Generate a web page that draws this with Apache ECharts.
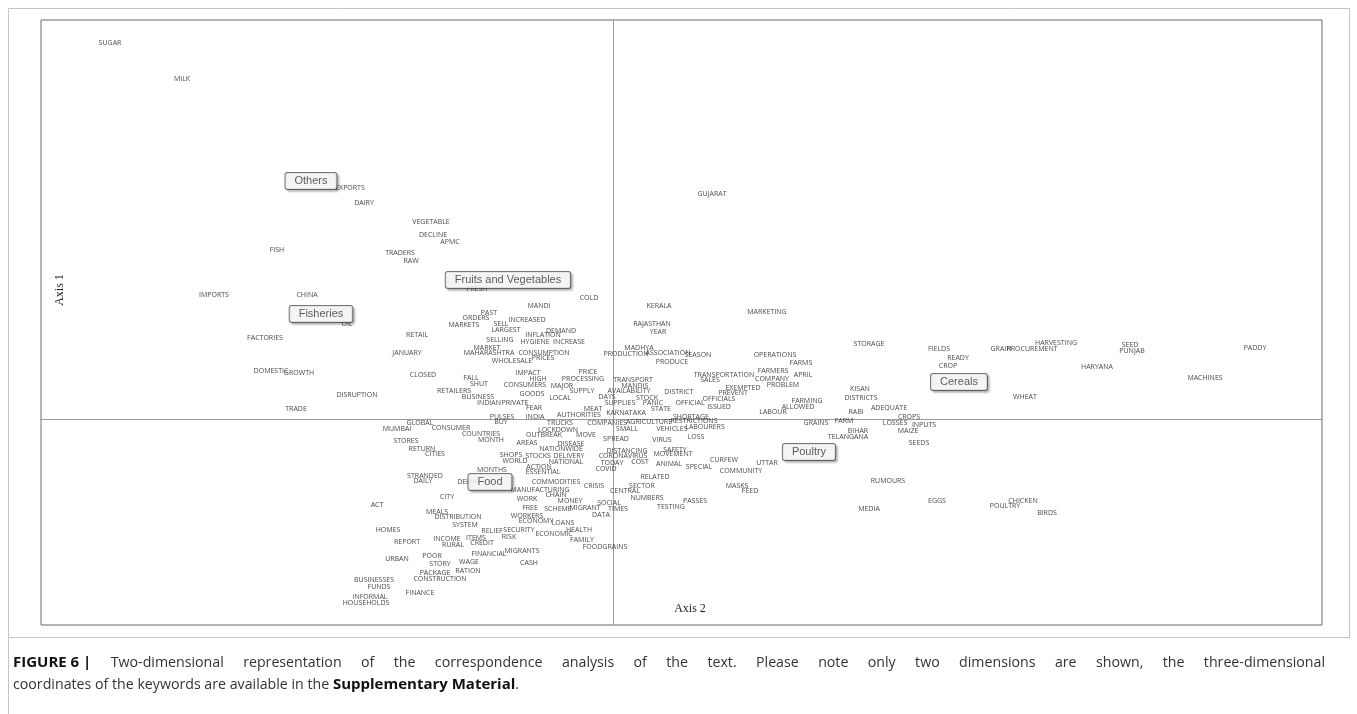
<!DOCTYPE html>
<html><head><meta charset="utf-8">
<script src="https://cdn.jsdelivr.net/npm/echarts@6/dist/echarts.min.js"></script>
<style>html,body{margin:0;padding:0;background:#fff}#c{width:1357px;height:714px}</style>
</head><body><div id="c"></div>
<script>
// Keyword labels with their estimated coordinates (Axis 2 = horizontal, Axis 1 = vertical)
var keywords = ["SUGAR","MILK","EXPORTS","DAIRY","VEGETABLE","DECLINE","APMC","TRADERS","RAW","FISH",
"IMPORTS","CHINA","FRESH","COLD","MANDI","KERALA","PAST","ORDERS","GUJARAT","MARKETING",
"RAJASTHAN","YEAR","MADHYA","STORAGE","FIELDS","READY","CROP","GRAIN","PROCUREMENT","HARVESTING",
"SEED","PUNJAB","PADDY","HARYANA","MACHINES","WHEAT","ADEQUATE","CROPS","LOSSES","INPUTS",
"MAIZE","SEEDS","RABI","GRAINS","FARM","BIHAR","TELANGANA","RUMOURS","EGGS","MEDIA",
"POULTRY","CHICKEN","BIRDS","KISAN","DISTRICTS","PRODUCTION","ASSOCIATION","SEASON","PRODUCE","OPERATIONS",
"FARMS","FARMERS","APRIL","TRANSPORTATION","SALES","COMPANY","PROBLEM","EXEMPTED","PREVENT","OFFICIALS",
"ISSUED","OFFICIAL","DISTRICT","TRANSPORT","MANDIS","AVAILABILITY","DAYS","STOCK","SUPPLIES","PANIC",
"STATE","KARNATAKA","SHORTAGE","RESTRICTIONS","LABOUR","FARMING","ALLOWED","COMPANIES","AGRICULTURE","SMALL",
"VEHICLES","LABOURERS","SPREAD","VIRUS","LOSS","DISTANCING","SAFETY","CORONAVIRUS","MOVEMENT","TODAY",
"COST","COVID","ANIMAL","SPECIAL","CURFEW","UTTAR","COMMUNITY","RELATED","CRISIS","SECTOR",
"CENTRAL","NUMBERS","MASKS","FEED","PASSES","TESTING","SOCIAL","TIMES","MIGRANT","DATA",
"MEAT","MARKETS","SELL","INCREASED","LARGEST","DEMAND","INFLATION","HYGIENE","INCREASE","SELLING",
"MARKET","MAHARASHTRA","CONSUMPTION","WHOLESALE","PRICES","IMPACT","HIGH","PRICE","PROCESSING","FALL",
"SHUT","CONSUMERS","MAJOR","RETAILERS","SUPPLY","GOODS","BUSINESS","LOCAL","INDIAN","PRIVATE",
"FEAR","PULSES","BUY","INDIA","AUTHORITIES","TRUCKS","CONSUMER","GLOBAL","MUMBAI","COUNTRIES",
"MONTH","LOCKDOWN","OUTBREAK","MOVE","AREAS","DISEASE","NATIONWIDE","STORES","RETURN","CITIES",
"SHOPS","STOCKS","DELIVERY","WORLD","NATIONAL","ACTION","ESSENTIAL","MONTHS","STRANDED","DAILY",
"DELHI","COMMODITIES","MANUFACTURING","CHAIN","CITY","WORK","MONEY","ACT","FREE","SCHEME",
"MEALS","DISTRIBUTION","WORKERS","ECONOMY","LOANS","SYSTEM","HOMES","REPORT","INCOME","RURAL",
"ITEMS","CREDIT","RELIEF","SECURITY","RISK","ECONOMIC","HEALTH","FAMILY","FOODGRAINS","URBAN",
"POOR","STORY","WAGE","FINANCIAL","MIGRANTS","CASH","PACKAGE","RATION","CONSTRUCTION","BUSINESSES",
"FUNDS","FINANCE","INFORMAL","HOUSEHOLDS","OIL","FACTORIES","RETAIL","JANUARY","DOMESTIC","GROWTH",
"CLOSED","DISRUPTION","TRADE"];
var axis2Values = [-5.03,-4.31,-2.63,-2.49,-1.82,-1.80,-1.63,-2.13,-2.02,-3.36,
-3.99,-3.06,-1.36,-0.24,-0.74,0.46,-1.24,-1.37,0.99,1.54,
0.39,0.45,0.26,2.56,3.26,3.45,3.35,3.88,4.19,4.43,
5.17,5.19,6.42,4.84,5.92,4.12,2.76,2.96,2.82,3.11,
2.95,3.06,2.43,2.03,2.31,2.45,2.35,2.75,3.24,2.56,
3.92,4.10,4.34,2.47,2.48,0.13,0.55,0.85,0.59,1.62,
1.88,1.60,1.90,1.11,0.97,1.59,1.70,1.30,1.20,1.06,
1.06,0.77,0.66,0.20,0.22,0.16,-0.06,0.34,0.07,0.40,
0.48,0.13,0.78,0.81,1.60,1.94,1.85,-0.06,0.36,0.14,
0.59,0.92,0.03,0.49,0.83,0.14,0.62,0.10,0.60,-0.01,
0.27,-0.07,0.56,0.86,1.11,1.54,1.28,0.42,-0.19,0.29,
0.12,0.34,1.24,1.37,0.82,0.58,-0.04,0.05,-0.28,-0.12,
-0.20,-1.49,-1.12,-0.86,-1.07,-0.52,-0.70,-0.78,-0.44,-1.13,
-1.26,-1.24,-0.69,-1.01,-0.70,-0.85,-0.75,-0.25,-0.30,-1.42,
-1.34,-0.88,-0.51,-1.59,-0.31,-0.81,-1.35,-0.53,-1.24,-0.98,
-0.79,-1.11,-1.12,-0.78,-0.34,-0.53,-1.62,-1.93,-2.16,-1.32,
-1.22,-0.55,-0.69,-0.27,-0.86,-0.42,-0.52,-2.07,-1.91,-1.78,
-1.02,-0.75,-0.44,-0.98,-0.47,-0.74,-0.70,-1.21,-1.88,-1.90,
-1.46,-0.57,-0.73,-0.57,-1.66,-0.86,-0.43,-2.36,-0.83,-0.55,
-1.76,-1.55,-0.86,-0.77,-0.50,-1.48,-2.25,-2.06,-1.66,-1.60,
-1.37,-1.31,-1.21,-0.94,-1.04,-0.59,-0.34,-0.31,-0.08,-2.16,
-1.81,-1.73,-1.44,-1.24,-0.91,-0.84,-1.78,-1.45,-1.73,-2.39,
-2.34,-1.93,-2.43,-2.47,-2.66,-3.48,-1.96,-2.06,-3.42,-3.14,
-1.90,-2.56,-3.17];
var axis1Values = [3.76,3.40,2.31,2.16,1.97,1.84,1.77,1.66,1.58,1.69,
1.24,1.24,1.30,1.21,1.13,1.13,1.06,1.01,2.25,1.07,
0.95,0.87,0.71,0.75,0.70,0.61,0.53,0.70,0.70,0.76,
0.74,0.68,0.71,0.52,0.41,0.22,0.11,0.02,-0.04,-0.06,
-0.12,-0.24,0.07,-0.04,-0.02,-0.12,-0.18,-0.62,-0.82,-0.90,
-0.87,-0.82,-0.94,0.30,0.21,0.65,0.66,0.64,0.57,0.64,
0.56,0.48,0.44,0.44,0.39,0.40,0.34,0.31,0.26,0.20,
0.12,0.16,0.27,0.39,0.33,0.28,0.22,0.21,0.16,0.16,
0.10,0.06,0.02,-0.02,0.07,0.18,0.12,-0.04,-0.03,-0.10,
-0.10,-0.08,-0.20,-0.21,-0.18,-0.32,-0.31,-0.37,-0.35,-0.44,
-0.43,-0.50,-0.45,-0.48,-0.41,-0.44,-0.52,-0.58,-0.67,-0.67,
-0.72,-0.79,-0.67,-0.72,-0.82,-0.88,-0.84,-0.90,-0.89,-0.96,
0.10,0.94,0.95,0.99,0.89,0.88,0.84,0.77,0.77,0.79,
0.71,0.66,0.66,0.58,0.61,0.46,0.40,0.47,0.40,0.41,
0.35,0.34,0.33,0.28,0.28,0.25,0.22,0.21,0.16,0.16,
0.11,0.02,-0.03,0.02,0.04,-0.04,-0.09,-0.04,-0.10,-0.15,
-0.21,-0.11,-0.16,-0.16,-0.24,-0.25,-0.30,-0.22,-0.30,-0.35,
-0.36,-0.37,-0.37,-0.42,-0.43,-0.48,-0.53,-0.51,-0.57,-0.62,
-0.63,-0.63,-0.71,-0.76,-0.78,-0.80,-0.82,-0.86,-0.89,-0.90,
-0.93,-0.98,-0.97,-1.02,-1.04,-1.06,-1.11,-1.23,-1.20,-1.26,
-1.19,-1.24,-1.12,-1.11,-1.18,-1.15,-1.11,-1.21,-1.28,-1.40,
-1.37,-1.45,-1.43,-1.35,-1.32,-1.44,-1.54,-1.52,-1.60,-1.61,
-1.68,-1.74,-1.78,-1.84,0.95,0.81,0.84,0.66,0.48,0.46,
0.44,0.24,0.10];
// Category (cluster) labels
var categories = ["Others","Fruits and Vegetables","Fisheries","Cereals","Poultry","Food"];
var catAxis2 = [-3.02,-1.05,-2.92,3.46,1.96,-1.23];
var catAxis1 = [2.38,1.39,1.05,0.37,-0.33,-0.63];

var captionBold = "FIGURE 6 |";
var captionLine1 = "Two-dimensional representation of the correspondence analysis of the text. Please note only two dimensions are shown, the three-dimensional";
var captionLine2a = "coordinates of the keywords are available in the ";
var captionLine2b = "Supplementary Material";
var captionLine2c = ".";

var chart = echarts.init(document.getElementById('c'), null, {renderer:'canvas'});
var wordData = keywords.map(function(k,i){return {name:k, value:[axis2Values[i], axis1Values[i]]};});
var catData = categories.map(function(k,i){return {name:k, value:[catAxis2[i], catAxis1[i]]};});

var ctx = document.createElement('canvas').getContext('2d');
var REG = '14.2px "Open Sans"', BOLD = 'bold 15px "Open Sans"';
function w(t, f){ctx.font=f; return ctx.measureText(t).width;}
var y1 = 663, y2 = 685, left = 13, right = 1325;
var tokens = [{t:captionBold,f:BOLD,c:'#111'}].concat(captionLine1.split(' ').map(function(s){return {t:s,f:REG,c:'#333'};}));

function buildCaption(){
  var els = [];
  var total = 0; tokens.forEach(function(k){k.w=w(k.t,k.f); total+=k.w;});
  var gap = (right-left-total)/(tokens.length-1);
  var cx = left;
  tokens.forEach(function(k){
    els.push({type:'text',silent:true,x:cx,y:y1,style:{text:k.t,font:k.f,fill:k.c,verticalAlign:'middle'}});
    cx += k.w + gap;
  });
  var x2 = left;
  els.push({type:'text',silent:true,x:x2,y:y2,style:{text:captionLine2a,font:REG,fill:'#333',verticalAlign:'middle'}});
  x2 += w(captionLine2a, REG);
  els.push({type:'text',silent:true,x:x2,y:y2,style:{text:captionLine2b,font:BOLD,fill:'#111',verticalAlign:'middle'}});
  x2 += w(captionLine2b, BOLD);
  els.push({type:'text',silent:true,x:x2,y:y2,style:{text:captionLine2c,font:REG,fill:'#333',verticalAlign:'middle'}});
  return els;
}

function render(){
chart.setOption({
  animation:false,
  backgroundColor:'#fff',
  grid:{left:41,top:20,width:1281,height:605,show:true,borderColor:'#6a6a6a',borderWidth:1,containLabel:false},
  xAxis:{type:'value',min:-5.72,max:7.09,splitLine:{show:false},axisTick:{show:false},axisLabel:{show:false},
    axisLine:{show:true,onZero:true,lineStyle:{color:'#9a9a9a',width:1}}},
  yAxis:{type:'value',min:-2.06,max:3.99,splitLine:{show:false},axisTick:{show:false},axisLabel:{show:false},
    axisLine:{show:true,onZero:true,lineStyle:{color:'#9a9a9a',width:1}}},
  series:[
    {type:'scatter',data:wordData,symbolSize:0,silent:true,z:3,
     label:{show:true,position:'inside',formatter:'{b}',color:'#111',fontFamily:'Open Sans',fontSize:7,align:'center',verticalAlign:'middle'}},
    {type:'scatter',data:catData,symbolSize:0,silent:true,z:5,
     label:{show:true,position:'inside',formatter:'{b}',color:'#333',fontFamily:'Liberation Sans',fontSize:11,align:'center',verticalAlign:'middle',
       backgroundColor:'#fff',borderColor:'#555',borderWidth:1,borderRadius:2,padding:[3,9,2,9],
       shadowColor:'rgba(0,0,0,0.25)',shadowBlur:2,shadowOffsetX:2,shadowOffsetY:2}}
  ],
  graphic:[
    {type:'rect',silent:true,shape:{x:8.5,y:8.5,width:1341,height:629},style:{fill:null,stroke:'#c4c4c4',lineWidth:1},z:-1},
    {type:'line',silent:true,shape:{x1:8.5,y1:638,x2:8.5,y2:714},style:{stroke:'#c4c4c4',lineWidth:1}},
    {type:'text',silent:true,x:60,y:290,rotation:Math.PI/2,style:{text:'Axis 1',fill:'#222',font:'12px "Liberation Serif"',align:'center',verticalAlign:'middle'}},
    {type:'text',silent:true,x:690,y:609,style:{text:'Axis 2',fill:'#222',font:'12px "Liberation Serif"',align:'center',verticalAlign:'middle'}}
  ].concat(buildCaption())
}, true);
}
render();
if (document.fonts && document.fonts.load) {
  Promise.all([document.fonts.load(REG), document.fonts.load(BOLD)]).then(function(){ render(); });
}
</script></body></html>
